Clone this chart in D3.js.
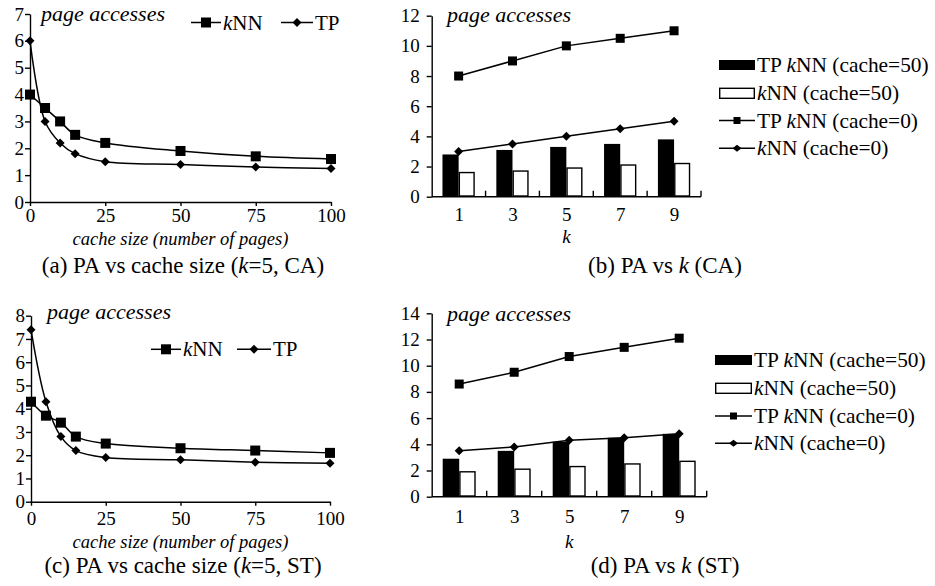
<!DOCTYPE html>
<html><head><meta charset="utf-8">
<script src="https://cdn.jsdelivr.net/npm/d3@7"></script>
<style>
  body { margin: 0; background: #fff; }
  svg { display: block; }
  text { font-family: "Liberation Serif", "Times New Roman", serif; fill: #000; }
</style>
</head><body>
<svg id="chart" width="935" height="586"></svg>
<script>
// ---- page accesses vs cache size (k = 5) ----
const cacheSizes = [0, 5, 10, 15, 25, 50, 75, 100];
const cacheTicks = [0, 25, 50, 75, 100];
const caKnn = [4.0, 3.5, 3.0, 2.5, 2.2, 1.9, 1.7, 1.6];
const caTp  = [6.0, 3.0, 2.2, 1.8, 1.5, 1.4, 1.3, 1.25];
const stKnn = [4.3, 3.7, 3.4, 2.8, 2.5, 2.3, 2.2, 2.1];
const stTp  = [7.4, 4.3, 2.8, 2.2, 1.9, 1.8, 1.7, 1.65];

// ---- page accesses vs k ----
const kValues = [1, 3, 5, 7, 9];
const caTpKnn50 = [2.8, 3.1, 3.3, 3.5, 3.8];
const caKnn50   = [1.6, 1.7, 1.9, 2.1, 2.2];
const caTpKnn0  = [8.0, 9.0, 10.0, 10.5, 11.0];
const caKnn0    = [3.0, 3.5, 4.0, 4.5, 5.0];
const stTpKnn50 = [2.9, 3.5, 4.2, 4.5, 4.8];
const stKnn50   = [1.9, 2.1, 2.3, 2.5, 2.7];
const stTpKnn0  = [8.6, 9.5, 10.7, 11.4, 12.1];
const stKnn0    = [3.5, 3.8, 4.3, 4.5, 4.8];

// ---- texts ----
const yTitle = "page accesses";
const cacheTitle = "cache size (number of pages)";
const kTitle = "k";
const lineLegend = [[["k", true], ["NN", false]], [["TP", false]]];
const barLegend = [
  [["TP ", false], ["k", true], ["NN (cache=50)", false]],
  [["k", true], ["NN (cache=50)", false]],
  [["TP ", false], ["k", true], ["NN (cache=0)", false]],
  [["k", true], ["NN (cache=0)", false]]
];
const captions = [
  [["(a) PA vs cache size (", false], ["k", true], ["=5, CA)", false]],
  [["(b) PA vs ", false], ["k", true], [" (CA)", false]],
  [["(c) PA vs cache size (", false], ["k", true], ["=5, ST)", false]],
  [["(d) PA vs ", false], ["k", true], [" (ST)", false]]
];

const svg = d3.select("#chart");
const TICK_FONT = 19;

function richText(g, parts, x, y, size, anchor) {
  const t = g.append("text").attr("x", x).attr("y", y)
    .attr("font-size", size).attr("text-anchor", anchor || "start");
  parts.forEach(([s, it]) => t.append("tspan").text(s)
    .attr("font-style", it ? "italic" : "normal"));
  return t;
}
function square(g, cx, cy, s) {
  g.append("rect").attr("x", cx - s / 2).attr("y", cy - s / 2)
    .attr("width", s).attr("height", s).attr("fill", "#000");
}
function diamond(g, cx, cy, w, h) {
  g.append("path")
    .attr("d", `M${cx},${cy - h / 2}L${cx + w / 2},${cy}L${cx},${cy + h / 2}L${cx - w / 2},${cy}Z`)
    .attr("fill", "#000");
}
function styleAxis(sel) {
  sel.attr("font-family", null).attr("font-size", TICK_FONT);
  sel.selectAll("path, line").attr("stroke", "#000").attr("stroke-width", 1.4);
}

// Line chart: page accesses against cache size
function linePanel(o) {
  const g = svg.append("g");
  const x = d3.scaleLinear().domain([0, 100]).range([o.left, o.right]);
  const y = d3.scaleLinear().domain([0, o.yMax]).range([o.bottom, o.top]);

  g.append("g").attr("transform", `translate(${o.left},0)`)
    .call(d3.axisLeft(y).ticks(o.yMax).tickSize(5).tickSizeOuter(0).tickPadding(1).tickFormat(d3.format("d")))
    .call(styleAxis);
  g.append("g").attr("transform", `translate(0,${o.bottom})`)
    .call(d3.axisBottom(x).tickValues(cacheTicks).tickSize(4).tickSizeOuter(0).tickPadding(o.xPad))
    .call(styleAxis);

  g.append("text").attr("x", o.titleX).attr("y", o.titleY).attr("font-size", 22)
    .attr("font-style", "italic").text(yTitle);
  g.append("text").attr("x", (o.left + o.right) / 2).attr("y", o.xTitleY).attr("font-size", 18.5)
    .attr("font-style", "italic").attr("text-anchor", "middle").text(cacheTitle);

  const line = d3.line().x((d, i) => x(cacheSizes[i])).y(d => y(d)).curve(d3.curveCatmullRom.alpha(0.5));
  [o.knn, o.tp].forEach(vals => g.append("path").attr("d", line(vals))
    .attr("fill", "none").attr("stroke", "#000").attr("stroke-width", 1.5));
  o.knn.forEach((v, i) => square(g, x(cacheSizes[i]), y(v), 10));
  o.tp.forEach((v, i) => diamond(g, x(cacheSizes[i]), y(v), 9, 9));

  // legend
  const L = o.legend;
  g.append("line").attr("x1", L.k[0]).attr("x2", L.k[1]).attr("y1", L.y).attr("y2", L.y)
    .attr("stroke", "#000").attr("stroke-width", 1.5);
  square(g, (L.k[0] + L.k[1]) / 2, L.y, 10);
  richText(g, lineLegend[0], L.k[1] + 2, L.y + 7, 21);
  g.append("line").attr("x1", L.t[0]).attr("x2", L.t[1]).attr("y1", L.y).attr("y2", L.y)
    .attr("stroke", "#000").attr("stroke-width", 1.5);
  diamond(g, (L.t[0] + L.t[1]) / 2, L.y, 9, 9);
  richText(g, lineLegend[1], L.t[1] + 2, L.y + 7, 21);
}

// Bar + line chart: page accesses against k
function barPanel(o) {
  const g = svg.append("g");
  const x = d3.scalePoint().domain(kValues).range([o.left, o.right]).padding(0.5);
  const step = x.step();
  const bw = step * 0.3;
  const y = d3.scaleLinear().domain([0, o.yMax]).range([o.bottom, o.top]);

  // bars
  o.tp50.forEach((v, i) => g.append("rect").attr("x", x(kValues[i]) - bw).attr("y", y(v))
    .attr("width", bw).attr("height", y(0) - y(v)).attr("fill", "#000"));
  o.knn50.forEach((v, i) => g.append("rect").attr("x", x(kValues[i]) + 0.7).attr("y", y(v))
    .attr("width", bw - 1.4).attr("height", y(0) - y(v) - 0.7).attr("fill", "#fff")
    .attr("stroke", "#000").attr("stroke-width", 1.4));

  g.append("g").attr("transform", `translate(${o.left},0)`)
    .call(d3.axisLeft(y).tickValues(d3.range(0, o.yMax + 1, 2)).tickSize(5).tickSizeOuter(0).tickPadding(7))
    .call(styleAxis);
  const xa = g.append("g").attr("transform", `translate(0,${o.bottom})`)
    .call(d3.axisBottom(x).tickSize(0).tickSizeOuter(0).tickPadding(o.xPad))
    .call(styleAxis);
  xa.select(".domain").attr("d", `M${o.left},0H${o.right}`);
  // category separators drawn upward from the axis
  kValues.forEach(k => g.append("line").attr("x1", x(k) + step / 2).attr("x2", x(k) + step / 2)
    .attr("y1", o.bottom).attr("y2", o.bottom - 6).attr("stroke", "#000").attr("stroke-width", 1.4));

  g.append("text").attr("x", o.titleX).attr("y", o.titleY).attr("font-size", 22)
    .attr("font-style", "italic").text(yTitle);
  g.append("text").attr("x", (o.left + o.right) / 2).attr("y", o.xTitleY).attr("font-size", 19)
    .attr("font-style", "italic").attr("text-anchor", "middle").text(kTitle);

  const line = d3.line().x((d, i) => x(kValues[i])).y(d => y(d));
  [o.tp0, o.knn0].forEach(vals => g.append("path").attr("d", line(vals))
    .attr("fill", "none").attr("stroke", "#000").attr("stroke-width", 1.5));
  o.tp0.forEach((v, i) => square(g, x(kValues[i]), y(v), 9));
  o.knn0.forEach((v, i) => diamond(g, x(kValues[i]), y(v), 9, 9));

  // legend
  const L = o.legend;
  const [x0, x1] = L.x;
  g.append("rect").attr("x", x0).attr("y", L.rows[0] - 5).attr("width", x1 - x0).attr("height", 10).attr("fill", "#000");
  g.append("rect").attr("x", x0 + 0.7).attr("y", L.rows[1] - 5).attr("width", x1 - x0 - 1.4).attr("height", 10)
    .attr("fill", "#fff").attr("stroke", "#000").attr("stroke-width", 1.4);
  [2, 3].forEach(r => g.append("line").attr("x1", x0).attr("x2", x1).attr("y1", L.rows[r]).attr("y2", L.rows[r])
    .attr("stroke", "#000").attr("stroke-width", 1.5));
  square(g, (x0 + x1) / 2, L.rows[2], 7);
  diamond(g, (x0 + x1) / 2, L.rows[3], 9, 7);
  barLegend.forEach((parts, r) => richText(g, parts, x1 + 2, L.rows[r] + 7, 21.4));
}

linePanel({
  left: 30, right: 331, top: 14, bottom: 202, yMax: 7, xPad: 3,
  knn: caKnn, tp: caTp, titleX: 41, titleY: 21, xTitleY: 245,
  legend: { y: 22.5, k: [191, 221], t: [281, 313] }
});
linePanel({
  left: 31, right: 330, top: 315.7, bottom: 501.7, yMax: 8, xPad: 6,
  knn: stKnn, tp: stTp, titleX: 47, titleY: 319, xTitleY: 548,
  legend: { y: 349.3, k: [151, 181], t: [237, 271] }
});
barPanel({
  left: 431.7, right: 701, top: 15.7, bottom: 196.7, yMax: 12, xPad: 11,
  tp50: caTpKnn50, knn50: caKnn50, tp0: caTpKnn0, knn0: caKnn0,
  titleX: 447, titleY: 22, xTitleY: 243,
  legend: { x: [719, 755], rows: [65, 93.3, 120.5, 148.3] }
});
barPanel({
  left: 431.7, right: 706.7, top: 313.3, bottom: 496.7, yMax: 14, xPad: 13,
  tp50: stTpKnn50, knn50: stKnn50, tp0: stTpKnn0, knn0: stKnn0,
  titleX: 447, titleY: 321, xTitleY: 548,
  legend: { x: [715, 752], rows: [360, 388.3, 416, 443.3] }
});

// captions
richText(svg, captions[0], 183, 273, 23, "middle");
richText(svg, captions[1], 665, 273, 23, "middle");
richText(svg, captions[2], 183, 573, 23, "middle");
richText(svg, captions[3], 665, 573, 23, "middle");
</script>
</body></html>
